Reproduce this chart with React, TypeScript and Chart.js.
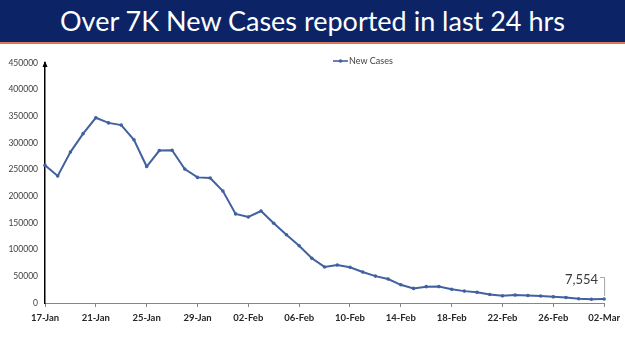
import React, { useEffect, useRef } from "react";
import { Chart, registerables } from "chart.js";

Chart.register(...registerables);

const TITLE = "Over 7K New Cases reported in last 24 hrs";
const SERIES_NAME = "New Cases";

const dates = [
  "17-Jan", "18-Jan", "19-Jan", "20-Jan", "21-Jan", "22-Jan", "23-Jan", "24-Jan",
  "25-Jan", "26-Jan", "27-Jan", "28-Jan", "29-Jan", "30-Jan", "31-Jan",
  "01-Feb", "02-Feb", "03-Feb", "04-Feb", "05-Feb", "06-Feb", "07-Feb", "08-Feb",
  "09-Feb", "10-Feb", "11-Feb", "12-Feb", "13-Feb", "14-Feb", "15-Feb", "16-Feb",
  "17-Feb", "18-Feb", "19-Feb", "20-Feb", "21-Feb", "22-Feb", "23-Feb", "24-Feb",
  "25-Feb", "26-Feb", "27-Feb", "28-Feb", "01-Mar", "02-Mar",
];

const newCases = [
  258089, 238018, 282970, 317532, 347254, 337704, 333533, 306064,
  255874, 285914, 286384, 251209, 235532, 234281, 209918,
  167059, 161386, 172433, 149394, 127952, 107474, 83876, 67597,
  71365, 67084, 58077, 50407, 44877, 34113, 27409, 30615,
  30757, 25920, 22270, 19968, 16051, 13405, 15102, 14148,
  13166, 11499, 10273, 8013, 6915, 7554,
];

const Y_MIN = 0;
const Y_MAX = 450000;
const Y_STEP = 50000;
const X_TICK_EVERY = 4;

const LINE_COLOR = "#41619f";

const arrowPlugin = {
  id: "yArrow",
  afterDraw(chart: any) {
    const { ctx, chartArea } = chart;
    const x = chartArea.left;
    const y = chartArea.top - 2;
    ctx.save();
    ctx.fillStyle = "#000";
    ctx.beginPath();
    ctx.moveTo(x, y);
    ctx.lineTo(x - 2.5, y + 6);
    ctx.lineTo(x + 2.5, y + 6);
    ctx.closePath();
    ctx.fill();
    ctx.restore();
  },
};

const legendPlugin = {
  id: "customLegend",
  afterDraw(chart: any) {
    const { ctx } = chart;
    const x0 = 333;
    const y0 = 61;
    ctx.save();
    ctx.strokeStyle = LINE_COLOR;
    ctx.lineWidth = 1.6;
    ctx.beginPath();
    ctx.moveTo(x0, y0);
    ctx.lineTo(x0 + 15, y0);
    ctx.stroke();
    ctx.fillStyle = LINE_COLOR;
    ctx.beginPath();
    ctx.arc(x0 + 7.5, y0, 1.8, 0, Math.PI * 2);
    ctx.fill();
    ctx.fillStyle = "#404040";
    ctx.font = "9px Lato, 'Open Sans', sans-serif";
    ctx.textAlign = "left";
    ctx.textBaseline = "middle";
    ctx.fillText(SERIES_NAME, x0 + 16, y0 + 0.5);
    ctx.restore();
  },
};

const annotationPlugin = {
  id: "lastLabel",
  afterDraw(chart: any) {
    const { ctx } = chart;
    const meta = chart.getDatasetMeta(0);
    const last = meta.data[meta.data.length - 1];
    if (!last) return;
    const px = last.x;
    const py = last.y;
    const value = newCases[newCases.length - 1];
    const text = value.toLocaleString("en-US");
    ctx.save();
    ctx.strokeStyle = "#a6a6a6";
    ctx.lineWidth = 1;
    ctx.beginPath();
    ctx.moveTo(px - 4, py - 21.5);
    ctx.lineTo(px + 0.5, py - 21.5);
    ctx.lineTo(px + 0.5, py - 3);
    ctx.stroke();
    ctx.fillStyle = "#3a3a3a";
    ctx.font = "13px Lato, 'Open Sans', sans-serif";
    ctx.textAlign = "right";
    ctx.textBaseline = "middle";
    ctx.fillText(text, px - 6, py - 19);
    ctx.restore();
  },
};

export default function App() {
  const canvasRef = useRef<HTMLCanvasElement | null>(null);

  useEffect(() => {
    document.body.style.margin = "0";
    const canvas = canvasRef.current;
    if (!canvas) return;
    const chart = new Chart(canvas, {
      type: "line",
      data: {
        labels: dates,
        datasets: [
          {
            label: SERIES_NAME,
            data: newCases,
            borderColor: LINE_COLOR,
            backgroundColor: LINE_COLOR,
            borderWidth: 2,
            pointRadius: 1.8,
            pointBorderWidth: 0,
            pointBackgroundColor: LINE_COLOR,
            tension: 0,
            fill: false,
          },
        ],
      },
      options: {
        animation: false,
        responsive: false,
        maintainAspectRatio: false,
        layout: { padding: { left: 0, right: 20, top: 63, bottom: 0 } },
        plugins: {
          legend: { display: false },
          tooltip: { enabled: false },
          title: { display: false },
        },
        scales: {
          x: {
            type: "category",
            offset: false,
            grid: {
              display: true,
              drawOnChartArea: false,
              drawTicks: true,
              tickLength: 4,
              color: "#868686",
            },
            border: { display: true, color: "#868686", width: 1 },
            ticks: {
              autoSkip: false,
              maxRotation: 0,
              minRotation: 0,
              padding: 5,
              color: "#262626",
              font: { family: "Lato, 'Open Sans', sans-serif", size: 9.5, weight: "bold" },
              callback: function (_v: any, i: number) {
                return i % X_TICK_EVERY === 0 ? dates[i] : null;
              },
            },
            afterFit(scale: any) {
              scale.height = 48;
            },
          },
          y: {
            min: Y_MIN,
            max: Y_MAX,
            grid: { display: false, drawTicks: false },
            border: { display: true, color: "#000000", width: 1.5 },
            ticks: {
              stepSize: Y_STEP,
              padding: 7,
              color: "#404040",
              font: { family: "Lato, 'Open Sans', sans-serif", size: 8.5 },
              callback: function (v: any) {
                return String(v);
              },
            },
            afterFit(scale: any) {
              scale.width = 45;
            },
          },
        },
      },
      plugins: [arrowPlugin, legendPlugin, annotationPlugin],
    });
    return () => chart.destroy();
  }, []);

  return (
    <div style={{ position: "relative", width: 625, height: 351, background: "#fff", overflow: "hidden" }}>
      <canvas ref={canvasRef} width={625} height={351} style={{ position: "absolute", left: 0, top: 0 }} />
      <div
        style={{
          position: "absolute",
          left: 0,
          top: 0,
          width: 625,
          height: 42,
          background: "#0c2466",
          borderBottom: "2px solid #d9795a",
          color: "#ffffff",
          fontFamily: "Lato, 'Open Sans', sans-serif",
          fontSize: 27,
          lineHeight: "42px",
          textAlign: "center",
          whiteSpace: "nowrap",
        }}
      >
        {TITLE}
      </div>
    </div>
  );
}
